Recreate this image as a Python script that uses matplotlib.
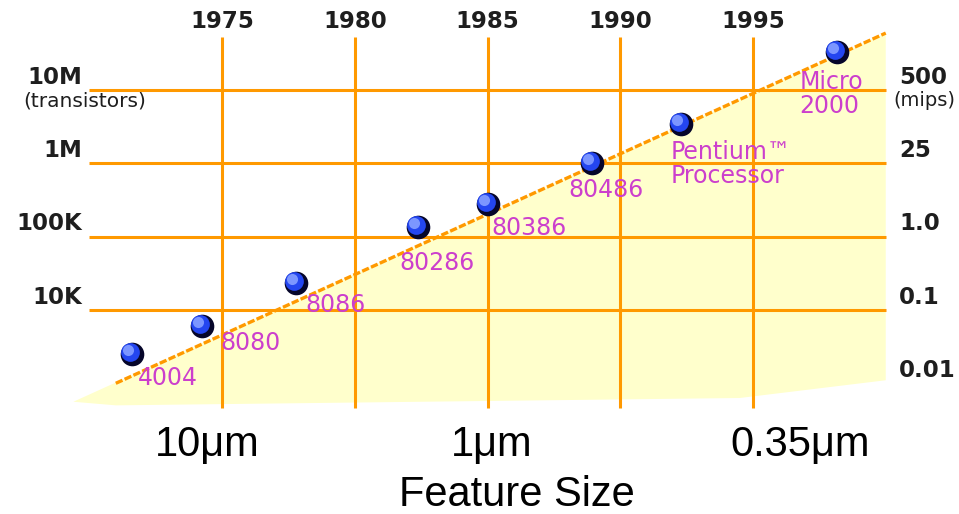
import matplotlib
matplotlib.use("Agg")
import matplotlib.pyplot as plt
from matplotlib.transforms import offset_copy

# Processors: year of introduction and transistor count
chips = ["4004", "8080", "8086", "80286", "80386", "80486",
         "Pentium\u2122\nProcessor", "Micro\n2000"]
chip_years = [1971.6, 1974.25, 1977.8, 1982.4, 1985.0, 1988.95, 1992.3, 1998.15]
chip_transistors = [2.5e3, 6.0e3, 2.3e4, 1.35e5, 2.8e5, 1.0e6, 3.5e6, 3.3e7]

# Trend line and the shaded area under it
trend_years = [1971, 2000]
trend_transistors = [1e3, 6e7]
shade_years = [1969.4, 2000, 2000, 1994.5, 1971, 1969.4]
shade_transistors = [560, 6e7, 1.1e3, 630, 500, 560]

# Grid and axis labels
grid_years = [1975, 1980, 1985, 1990, 1995]
grid_levels = [1e7, 1e6, 1e5, 1e4]
left_labels = ["10M", "1M", "100K", "10K"]
mips_levels = [1e7, 1e6, 1e5, 1e4, 1e3]
mips_labels = ["500", "25", "1.0", "0.1", "0.01"]
feature_sizes = ["10\u03bcm", "1\u03bcm", "0.35\u03bcm"]

ORANGE = "#ff9900"
MAGENTA = "#cc3fcc"
YELLOW = "#ffffcc"
DARK = "#1e1e1e"

fig = plt.figure(figsize=(9.59, 5.14), dpi=100)
ax = fig.add_axes([0, 0, 1, 1])
ax.set_yscale("log")
ax.set_xlim(1975 - 222 / 26.55, 1975 + 737 / 26.55)
ax.set_ylim(10 ** (4 - 204 / 73.3), 10 ** (4 + 310 / 73.3))
ax.set_axis_off()

# shaded area
ax.fill(shade_years, shade_transistors, color=YELLOW, lw=0, zorder=1)

# grid
ax.hlines(grid_levels, 1970, 2000, color=ORANGE, lw=2.2, zorder=2)
ax.vlines(grid_years, 460, 5.3e7, color=ORANGE, lw=2.2, zorder=2)

# trend line
ax.plot(trend_years, trend_transistors, color=ORANGE, lw=2.4,
        dashes=(2.2, 0.7), zorder=3)

# year labels on top
for yr in grid_years:
    ax.text(yr, 8.5e7, str(yr), ha="center", va="center",
            fontsize=16.5, fontweight="bold", color=DARK)

# left labels (transistors)
for lvl, lab in zip(grid_levels, left_labels):
    ax.annotate(lab, xy=(1969.75, lvl), xytext=(0, 13), textcoords="offset pixels",
                ha="right", va="center", fontsize=16.5, fontweight="bold", color=DARK)
ax.annotate("(transistors)", xy=(1967.5, grid_levels[0]), xytext=(0, -11),
            textcoords="offset pixels", ha="left", va="center", fontsize=14.5,
            color=DARK)

# right labels (mips)
for lvl, lab in zip(mips_levels, mips_labels):
    ax.annotate(lab, xy=(2000.5, lvl), xytext=(0, 13), textcoords="offset pixels",
                ha="left", va="center", fontsize=16.5, fontweight="bold", color=DARK)
ax.annotate("(mips)", xy=(2000.3, mips_levels[0]), xytext=(0, -10),
            textcoords="offset pixels", ha="left", va="center", fontsize=14,
            color=DARK)

# processor spheres
hi1 = offset_copy(ax.transData, fig=fig, x=-2, y=2, units="dots")
hi2 = offset_copy(ax.transData, fig=fig, x=-4, y=4, units="dots")
ax.plot(chip_years, chip_transistors, "o", ms=17, color="#06062a", mew=0, zorder=5)
ax.plot(chip_years, chip_transistors, "o", ms=13.5, color="#2446f0", mew=0,
        transform=hi1, zorder=6)
ax.plot(chip_years, chip_transistors, "o", ms=8, color="#7c96ff", mew=0,
        transform=hi2, zorder=7)

# processor labels
label_offsets = [(6, -24), (18, -17), (9, -22), (-19, -36), (4, -24),
                 (-24, -27), (-11, -40), (-37, -42)]
for name, yr, tr, off in zip(chips, chip_years, chip_transistors, label_offsets):
    ax.annotate(name, xy=(yr, tr), xytext=off, textcoords="offset pixels",
                ha="left", va="center", fontsize=17, color=MAGENTA,
                linespacing=1.0, zorder=4)

# feature size labels
for xp, lab in zip([207, 492, 800], feature_sizes):
    fig.text(xp / 959, 1 - 445 / 514, lab, ha="center", va="center",
             fontsize=30, family="Liberation Sans")
fig.text(517 / 959, 1 - 495 / 514, "Feature Size", ha="center", va="center",
         fontsize=30, family="Liberation Sans")

fig.savefig("out.png", dpi=100)
